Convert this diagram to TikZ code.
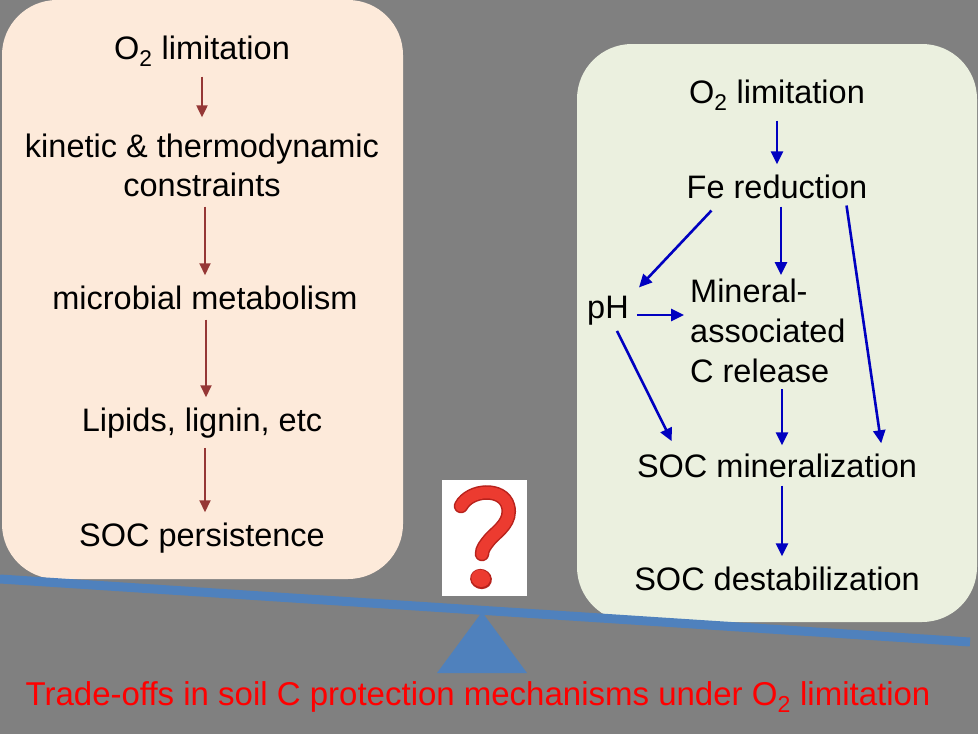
\documentclass[tikz,border=0pt]{standalone}
\usepackage{fontspec}
\setmainfont{Liberation Sans}
\usetikzlibrary{arrows.meta,positioning}
\definecolor{bggray}{HTML}{808080}
\definecolor{leftfill}{HTML}{FDEADA}
\definecolor{rightfill}{HTML}{EBF0DF}
\definecolor{darkred}{HTML}{953735}
\definecolor{arrowblue}{HTML}{0000C0}
\definecolor{beamblue}{HTML}{4F81BD}
\definecolor{qred}{HTML}{EC3B30}
\definecolor{qdark}{HTML}{B8221C}
\tikzset{
  txt/.style={font=\fontsize{32.5}{39}\selectfont, inner sep=0pt, align=center},
  redarrow/.style={draw=darkred, line width=2pt, -{Triangle[length=12pt,width=11pt]}},
  bluearrow/.style={draw=arrowblue, line width=2.6pt, -{Triangle[length=13pt,width=12pt]}},
}

\begin{document}
\begin{tikzpicture}[x=1pt,y=-1pt]
			\fill[bggray] (0,0) rectangle (978,734);
			\useasboundingbox (0,0) rectangle (978,734);
			\fill[leftfill, rounded corners=55pt] (2,0) rectangle (403,579);
			\fill[rightfill, rounded corners=55pt] (577,44) rectangle (977,622);
			% left box
			\node[txt, anchor=base] (L1) at (202,59) {O\textsubscript{2} limitation};
			\node[txt] (L2) at (202,165) {kinetic \& thermodynamic\\constraints};
			\node[txt, anchor=base] (L3) at (205,309) {microbial metabolism};
			\node[txt, anchor=base] (L4) at (202,431) {Lipids, lignin, etc};
			\node[txt, anchor=base] (L5) at (202,546) {SOC persistence};
			\draw[redarrow, shorten <=10pt, shorten >=16pt] (L1.south) -- (L1.south |- L2.north);
			\draw[redarrow, shorten <=10pt, shorten >=10pt] ([xshift=3pt]L2.south) -- ([xshift=3pt]L2.south |- L3.north);
			\draw[redarrow, shorten <=10pt, shorten >=10pt] ([xshift=1pt]L3.south) -- ([xshift=1pt]L3.south |- L4.north);
			\draw[redarrow, shorten <=10pt, shorten >=10pt] ([xshift=3pt]L4.south) -- ([xshift=3pt]L4.south |- L5.north);
			% right box
			\node[txt, anchor=base] (R1) at (777,103) {O\textsubscript{2} limitation};
			\node[txt, anchor=base] (R2) at (777,198) {Fe reduction};
			\node[txt, anchor=base] (R3) at (608,318) {pH};
			\node[txt, anchor=north west, align=left, font=\fontsize{32.5}{40}\selectfont] (R4) at (690,279) {Mineral-\\associated\\C release};
			\node[txt, anchor=base] (R5) at (777,477) {SOC mineralization};
			\node[txt, anchor=base] (R6) at (777,590) {SOC destabilization};
			\draw[bluearrow, shorten <=10pt, shorten >=10pt] (R1.south) -- (R1.south |- R2.north);
			\draw[bluearrow] ([xshift=25pt,yshift=-12pt]R2.south west) -- ([xshift=10pt,yshift=8pt]R3.north east);
			\draw[bluearrow, shorten <=8pt, shorten >=4pt] ([xshift=4pt]R2.south) -- ([xshift=4pt]R2.south |- R4.north);
			\draw[bluearrow] ([xshift=-21pt,yshift=-7pt]R2.south east) -- ([xshift=-36pt,yshift=10pt]R5.north east);
			\draw[bluearrow, shorten <=8pt, shorten >=6pt] (R3.east |- 0,315) -- (R4.west |- 0,315);
			\draw[bluearrow] ([xshift=9pt,yshift=-6pt]R3.south) -- ([xshift=35pt,yshift=12pt]R5.north west);
			\draw[bluearrow, shorten <=6pt, shorten >=8pt] ([xshift=5pt]R4.south -| R5.north) -- ([xshift=5pt]R5.north);
			\draw[bluearrow, shorten <=8pt, shorten >=10pt] ([xshift=5pt]R5.south) -- ([xshift=5pt]R5.south |- R6.north);
			% seesaw
			\coordinate (beamL) at (0,579);
			\coordinate (beamR) at (970,642);
			\fill[beamblue] (482,612) -- (437,673) -- (527,673) -- cycle;
			\draw[beamblue, line width=9pt] (beamL) -- (beamR);
			\node[fill=white, minimum width=85pt, minimum height=116pt, inner sep=0pt] (Q) at (484.5,538) {};
			\foreach \Col/\Wd in {qdark/14.5pt, qred/11.5pt}
				\draw[\Col, line width=\Wd, line cap=round]
					(461,506) .. controls (470,489) and (503,487) .. (508,506)
					.. controls (512,521) and (499,530) .. (491,538)
					.. controls (485,545) and (482,549) .. (482,554);
			\fill[qdark, rotate around={-20:(481,579)}] (481,579) ellipse (11pt and 10pt);
			\fill[qred, rotate around={-20:(481,579)}] (480.5,578.5) ellipse (9.5pt and 8.5pt);
			\node[txt, anchor=base, text=red, font=\fontsize{33}{39}\selectfont] (T) at (478,705) {Trade-offs in soil C protection mechanisms under O\textsubscript{2} limitation};
		\end{tikzpicture}
\end{document}
